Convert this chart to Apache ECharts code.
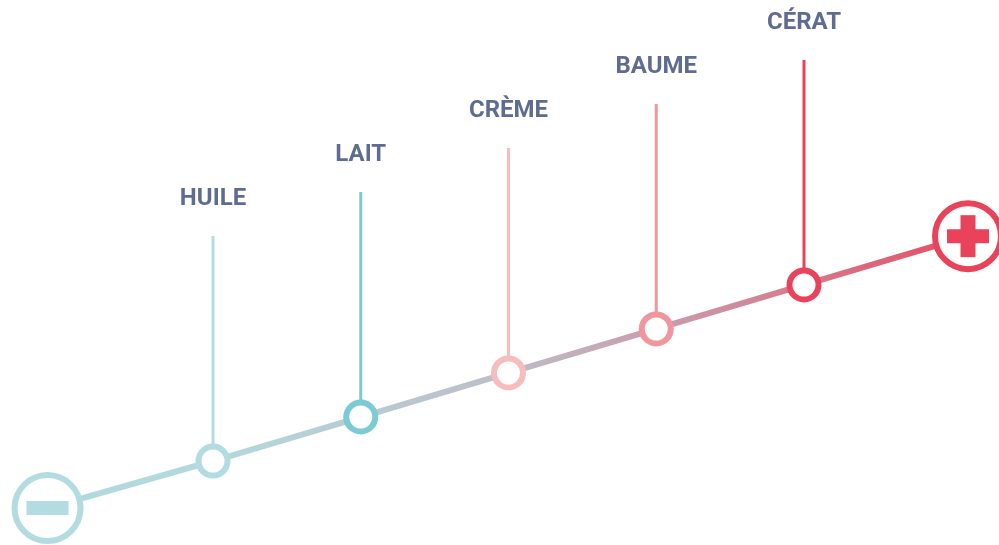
<!DOCTYPE html>
<html>
<head>
<meta charset="utf-8">
<script src="https://cdn.jsdelivr.net/npm/echarts@6/dist/echarts.min.js"></script>
<style>
html,body{margin:0;padding:0;background:#fff;}
#chart{width:999px;height:545px;}
</style>
</head>
<body>
<div id="chart"></div>
<script>
// ---- data ----
const categories = ['HUILE', 'LAIT', 'CRÈME', 'BAUME', 'CÉRAT'];
const stepX = [1, 2, 3, 4, 5];
const stepY = [1, 2, 3, 4, 5];
const endX = [-0.12, 6.11];   // minus, plus
const endY = [-0.07, 6.11];
const endSigns = ['minus', 'plus'];

// ---- styles ----
const pointColors = ['#b2dce0', '#7ccad3', '#f7bdbd', '#f0969c', '#e8435b'];
const endColors = ['#b2dce0', '#e8435b'];
const textColor = '#5f6c91';

const chart = echarts.init(document.getElementById('chart'));

const lineData = [[endX[0], endY[0]]]
  .concat(stepX.map((x, i) => [x, stepY[i]]))
  .concat([[endX[1], endY[1]]]);

const option = {
  animation: false,
  backgroundColor: '#fff',
  grid: { left: 0, right: 0, top: 0, bottom: 0 },
  xAxis: { type: 'value', min: -0.4416, max: 6.3198, show: false },
  yAxis: { type: 'value', min: -0.909, max: 11.477, show: false },
  series: [
    {
      type: 'line',
      data: lineData,
      symbol: 'none',
      z: 1,
      lineStyle: {
        width: 6,
        color: {
          type: 'linear', x: 0, y: 0, x2: 1, y2: 0,
          colorStops: [
            { offset: 0, color: '#b1dbdf' },
            { offset: 0.2, color: '#b3d8dc' },
            { offset: 0.5, color: '#bebdc7' },
            { offset: 0.75, color: '#cf8b9d' },
            { offset: 1, color: '#e84a62' }
          ]
        }
      }
    },
    {
      type: 'custom',
      z: 2,
      data: stepX.map((x, i) => [x, stepY[i]]),
      renderItem: function (params, api) {
        const p = api.coord([api.value(0), api.value(1)]);
        const i = params.dataIndex;
        return {
          type: 'group',
          children: [
            {
              type: 'line',
              shape: { x1: p[0], y1: p[1] - 225, x2: p[0], y2: p[1] - 10 },
              style: { stroke: pointColors[i], lineWidth: 3 }
            },
            {
              type: 'text',
              style: {
                x: p[0], y: p[1] - 262,
                text: categories[i],
                fill: textColor,
                font: 'bold 24px Roboto',
                align: 'center',
                verticalAlign: 'middle'
              }
            }
          ]
        };
      }
    },
    {
      type: 'custom',
      z: 3,
      data: stepX.map((x, i) => [x, stepY[i]]),
      renderItem: function (params, api) {
        const p = api.coord([api.value(0), api.value(1)]);
        const i = params.dataIndex;
        return {
          type: 'circle',
          shape: { cx: p[0], cy: p[1], r: 14.5 },
          style: { fill: '#fff', stroke: pointColors[i], lineWidth: 6 }
        };
      }
    },
    {
      type: 'custom',
      z: 4,
      data: endX.map((x, i) => [x, endY[i]]),
      renderItem: function (params, api) {
        const p = api.coord([api.value(0), api.value(1)]);
        const i = params.dataIndex;
        const c = endColors[i];
        const children = [
          {
            type: 'circle',
            shape: { cx: p[0], cy: p[1], r: 33 },
            style: { fill: '#fff', stroke: c, lineWidth: 6 }
          },
          {
            type: 'rect',
            shape: { x: p[0] - 21, y: p[1] - 7, width: 42, height: 14 },
            style: { fill: c }
          }
        ];
        if (endSigns[i] === 'plus') {
          children.push({
            type: 'rect',
            shape: { x: p[0] - 7.5, y: p[1] - 21, width: 15, height: 42 },
            style: { fill: c }
          });
        }
        return { type: 'group', children: children };
      }
    }
  ]
};
chart.setOption(option);
</script>
</body>
</html>
